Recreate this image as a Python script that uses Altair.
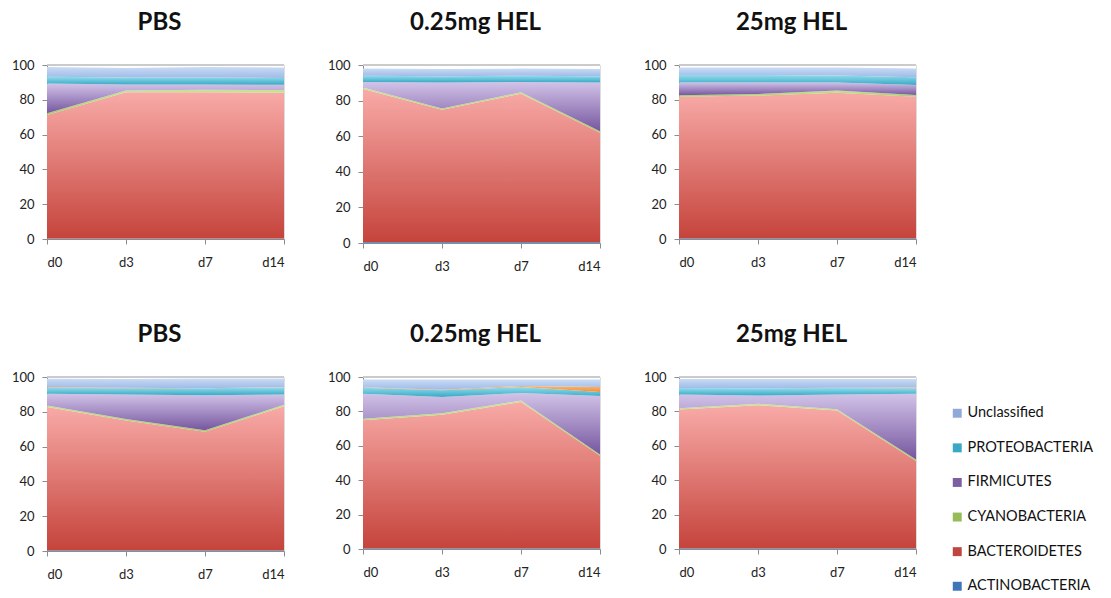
import altair as alt
import pandas as pd

# Sampling days (x axis) and taxa, listed bottom-to-top in stacking order
days = ["d0", "d3", "d7", "d14"]
taxa = ["ACTINOBACTERIA", "BACTEROIDETES", "CYANOBACTERIA", "FIRMICUTES",
        "PROTEOBACTERIA", "Other", "Unclassified"]

# Relative abundance (%) per taxon, one table per panel
pbs_a = {
    "ACTINOBACTERIA": [0.3, 0.3, 0.3, 0.3],
    "BACTEROIDETES": [71.0, 84.0, 84.0, 83.8],
    "CYANOBACTERIA": [1.0, 1.0, 1.5, 1.5],
    "FIRMICUTES": [17.0, 3.5, 3.0, 3.0],
    "PROTEOBACTERIA": [4.0, 4.0, 4.0, 4.0],
    "Other": [0.0, 0.0, 0.0, 0.0],
    "Unclassified": [5.5, 5.5, 6.0, 6.0],
}
hel_low_a = {
    "ACTINOBACTERIA": [0.5, 0.5, 0.5, 0.5],
    "BACTEROIDETES": [86.0, 74.3, 83.4, 61.5],
    "CYANOBACTERIA": [0.8, 0.8, 0.8, 0.8],
    "FIRMICUTES": [3.2, 14.6, 5.8, 27.4],
    "PROTEOBACTERIA": [3.5, 3.5, 3.5, 3.5],
    "Other": [0.0, 0.0, 0.0, 0.0],
    "Unclassified": [4.0, 4.0, 4.0, 4.0],
}
hel_high_a = {
    "ACTINOBACTERIA": [0.5, 0.5, 0.5, 0.5],
    "BACTEROIDETES": [81.3, 81.9, 83.6, 81.3],
    "CYANOBACTERIA": [0.8, 1.0, 1.2, 1.0],
    "FIRMICUTES": [7.4, 6.6, 4.7, 5.7],
    "PROTEOBACTERIA": [4.3, 4.3, 4.0, 4.5],
    "Other": [0.0, 0.0, 0.0, 0.0],
    "Unclassified": [4.2, 4.2, 4.5, 5.0],
}
pbs_b = {
    "ACTINOBACTERIA": [0.5, 0.5, 0.5, 0.5],
    "BACTEROIDETES": [82.3, 74.5, 68.1, 82.7],
    "CYANOBACTERIA": [0.8, 0.8, 0.8, 0.8],
    "FIRMICUTES": [6.8, 14.2, 20.1, 6.0],
    "PROTEOBACTERIA": [3.3, 3.5, 4.0, 4.0],
    "Other": [0.4, 0.3, 0.1, 0.1],
    "Unclassified": [4.9, 5.1, 5.5, 5.0],
}
hel_low_b = {
    "ACTINOBACTERIA": [0.5, 0.5, 0.5, 0.5],
    "BACTEROIDETES": [74.4, 77.6, 85.0, 53.7],
    "CYANOBACTERIA": [0.8, 0.8, 0.8, 0.8],
    "FIRMICUTES": [14.6, 9.5, 4.4, 34.0],
    "PROTEOBACTERIA": [3.5, 3.9, 3.5, 2.3],
    "Other": [0.2, 0.3, 0.6, 2.9],
    "Unclassified": [4.6, 6.0, 3.8, 4.4],
}
hel_high_b = {
    "ACTINOBACTERIA": [0.5, 0.5, 0.5, 0.5],
    "BACTEROIDETES": [80.6, 83.1, 80.0, 50.7],
    "CYANOBACTERIA": [0.8, 0.8, 0.8, 0.8],
    "FIRMICUTES": [7.9, 4.8, 8.5, 38.3],
    "PROTEOBACTERIA": [3.8, 4.2, 3.8, 3.2],
    "Other": [0.0, 0.0, 0.1, 0.4],
    "Unclassified": [5.2, 5.4, 5.2, 4.9],
}

panel_titles = ["PBS", "0.25mg HEL", "25mg HEL"]
row_a = [pbs_a, hel_low_a, hel_high_a]
row_b = [pbs_b, hel_low_b, hel_high_b]
heights_a = [174, 178, 174]
heights_b = [174, 172, 172]
y_ticks = [0, 20, 40, 60, 80, 100]

# Gradient fill per taxon: light tint at the top, full colour at the bottom
fills = {
    "ACTINOBACTERIA": ("#7fa3d6", "#3f73b3"),
    "BACTEROIDETES": ("#f8aaa7", "#c5443c"),
    "CYANOBACTERIA": ("#c8e394", "#a9cc6a"),
    "FIRMICUTES": ("#d2c3e8", "#76569f"),
    "PROTEOBACTERIA": ("#93dced", "#3aa9c5"),
    "Other": ("#fbb66e", "#f28f3a"),
    "Unclassified": ("#c9dbf6", "#9fbbe6"),
}

legend_names = ["Unclassified", "PROTEOBACTERIA", "FIRMICUTES",
                "CYANOBACTERIA", "BACTEROIDETES", "ACTINOBACTERIA"]
legend_colors = ["#90aad8", "#3aa8c4", "#7d5fa1", "#97bb56", "#bf463f", "#3e76b6"]

FONT = "Lato"
PANEL_W = 237

records = []
for r, group in enumerate([row_a, row_b]):
    for p, values in enumerate(group):
        for k, t in enumerate(taxa):
            for i, d in enumerate(days):
                records.append({"grp": r * 3 + p, "taxon": t, "rank": k,
                                "xi": i, "value": values[t][i]})
df = pd.DataFrame(records)

label_expr = "[" + ",".join(f"'{d}'" for d in days) + "][datum.value]"


def gradient(t):
    top, bottom = fills[t]
    return alt.Gradient(
        gradient="linear", x1=0, x2=0, y1=0, y2=1,
        stops=[alt.GradientStop(offset=0, color=top),
               alt.GradientStop(offset=1, color=bottom)],
    )


x_enc = alt.X(
    "xi:Q", title=None,
    scale=alt.Scale(domain=[0, len(days) - 1], nice=False, zero=False),
    axis=alt.Axis(values=list(range(len(days))), labelExpr=label_expr,
                  grid=False, domainColor="#8c8c8c", tickColor="#8c8c8c",
                  tickSize=5, labelPadding=12, labelFontSize=13,
                  labelFont=FONT, labelColor="#222222", labelOverlap=False),
)
y_enc = alt.Y(
    "y1:Q", title=None,
    scale=alt.Scale(domain=[0, 100], nice=False),
    axis=alt.Axis(values=y_ticks, grid=False, domainColor="#8c8c8c",
                  tickColor="#8c8c8c", tickSize=5, labelPadding=8,
                  labelFontSize=13, labelFont=FONT, labelColor="#222222",
                  labelOverlap=False, labelFlush=False, labelBound=False),
)


def panel(g, title, height, with_legend=False):
    base = (
        alt.Chart(df)
        .transform_filter(alt.datum.grp == g)
        .transform_stack(stack="value", groupby=["xi"],
                         sort=[alt.SortField("rank", order="ascending")],
                         as_=["y0", "y1"])
    )
    layers = [
        base.transform_filter(alt.datum.taxon == t)
        .mark_area(color=gradient(t))
        .encode(x=x_enc, y=y_enc, y2="y0:Q")
        for t in taxa
    ]
    # light rule along the top edge of the plot (the 100 % line)
    layers.append(
        alt.Chart(df).transform_filter(alt.datum.grp == g)
        .transform_aggregate(top="max(rank)")
        .mark_rule(color="#cbcbcb", strokeWidth=2)
        .encode(y=alt.value(0), x=alt.value(0), x2=alt.value(PANEL_W))
    )
    if with_legend:
        layers.append(
            alt.Chart(df).transform_filter("false")
            .mark_square(opacity=1)
            .encode(color=alt.Color(
                "taxon:N",
                scale=alt.Scale(domain=legend_names, range=legend_colors),
                legend=alt.Legend(
                    title=None, orient="none", legendX=903, legendY=341,
                    symbolType="square", symbolSize=80, symbolStrokeWidth=0,
                    labelFont=FONT, labelFontSize=14.5, labelColor="#111111",
                    rowPadding=19.6, labelOffset=3, values=legend_names)))
        )
    return alt.layer(*layers).properties(
        width=PANEL_W, height=height,
        title=alt.TitleParams(title, fontSize=24, font=FONT,
                              fontWeight="bold", color="#111111", offset=24,
                              dx=-6, anchor="middle"),
    )


top = alt.hconcat(*[panel(p, panel_titles[p], heights_a[p]) for p in range(3)],
                  spacing=40)
bottom = alt.hconcat(*[panel(3 + p, panel_titles[p], heights_b[p],
                             with_legend=(p == 2)) for p in range(3)],
                     spacing=40)

chart = (
    alt.vconcat(top, bottom, spacing=48)
    .properties(padding={"left": 10, "top": 10, "right": 4, "bottom": 4})
    .configure_view(strokeWidth=0)
    .configure(background="white")
)

chart.save("out.html", embed_options={"renderer": "svg", "actions": False})
